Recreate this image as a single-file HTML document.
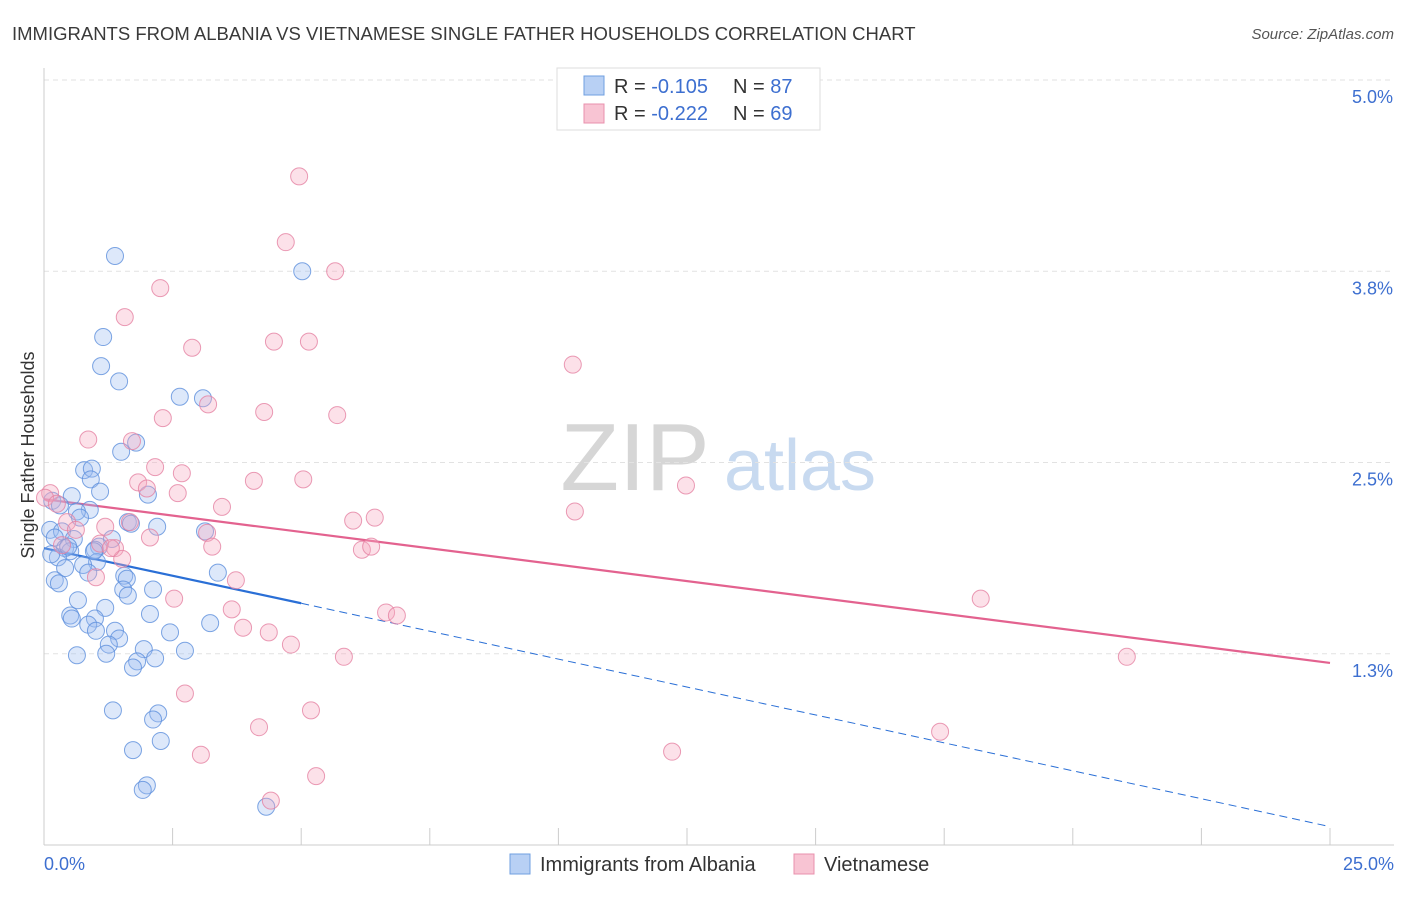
<!DOCTYPE html>
<html><head><meta charset="utf-8"><style>
body{margin:0;background:#fff;font-family:"Liberation Sans",sans-serif;}
svg text{font-family:"Liberation Sans",sans-serif;}
</style></head><body>
<svg id="chart" width="1406" height="892" xmlns="http://www.w3.org/2000/svg">
<text x="12" y="40" font-size="18.5" fill="#3a3a3a">IMMIGRANTS FROM ALBANIA VS VIETNAMESE SINGLE FATHER HOUSEHOLDS CORRELATION CHART</text>
<text x="1394" y="39" font-size="15" fill="#555" font-style="italic" text-anchor="end">Source: ZipAtlas.com</text>
<g><text x="635" y="490" font-size="96" fill="#d6d6d6" font-family="Liberation Serif" text-anchor="middle">ZIP</text><text x="800" y="490" font-size="72" fill="#c8daf0" text-anchor="middle">atlas</text></g>
<g id="grid"></g><g id="axes"></g><g id="trends"></g><g id="points"></g>
<text transform="translate(34,455) rotate(-90)" font-size="18" fill="#333" text-anchor="middle">Single Father Households</text>
<g>
<rect x="557" y="68" width="263" height="62" fill="#fff" stroke="#ddd"/>
<rect x="584" y="76" width="20" height="19" fill="#b8d0f4" stroke="#6f9fe0"/>
<rect x="584" y="104" width="20" height="19" fill="#f8c4d3" stroke="#e990ad"/>
<text x="614" y="93" font-size="20" fill="#333">R = <tspan fill="#3d6fd0">-0.105</tspan><tspan x="733">N = </tspan><tspan fill="#3d6fd0">87</tspan></text>
<text x="614" y="120" font-size="20" fill="#333">R = <tspan fill="#3d6fd0">-0.222</tspan><tspan x="733">N = </tspan><tspan fill="#3d6fd0">69</tspan></text>
</g>
<g>
<rect x="510" y="854" width="20" height="20" fill="#b8d0f4" stroke="#6f9fe0"/>
<text x="540" y="871" font-size="20" fill="#333">Immigrants from Albania</text>
<rect x="794" y="854" width="20" height="20" fill="#f8c4d3" stroke="#e990ad"/>
<text x="824" y="871" font-size="20" fill="#333">Vietnamese</text>
</g>
</svg>
<script>
const yTicks=[5.0,3.75,2.5,1.25];
const yTickLabels=["5.0%","3.8%","2.5%","1.3%"];
const xTicks=[0,2.5,5,7.5,10,12.5,15,17.5,20,22.5,25];
const xEndLabels=["0.0%","25.0%"];
const albaniaX=[1.38,5.02,1.15,1.11,1.46,2.64,3.09,1.79,1.50,0.78,0.93,0.91,1.09,2.02,0.54,0.16,0.31,0.89,0.64,0.70,1.63,1.69,2.20,3.13,0.12,0.35,0.21,0.58,1.32,1.07,0.41,0.51,0.99,0.27,1.03,0.76,0.41,0.86,1.56,1.61,3.38,0.21,0.29,1.54,2.12,1.63,0.66,1.19,0.51,0.54,0.99,2.06,3.23,0.86,1.01,1.38,1.46,2.45,1.26,1.94,2.74,0.64,1.21,1.81,2.16,1.73,1.34,2.22,2.12,1.73,2.27,2.00,1.92,4.32,0.97,0.47,0.14];
const albaniaY=[3.85,3.75,3.32,3.13,3.03,2.93,2.92,2.63,2.57,2.45,2.46,2.39,2.31,2.29,2.28,2.25,2.22,2.19,2.18,2.14,2.11,2.10,2.08,2.05,2.06,2.05,2.01,2.00,2.00,1.95,1.94,1.92,1.93,1.88,1.85,1.83,1.81,1.78,1.76,1.74,1.78,1.73,1.71,1.67,1.67,1.63,1.60,1.55,1.50,1.48,1.48,1.51,1.45,1.44,1.40,1.40,1.35,1.39,1.31,1.28,1.27,1.24,1.25,1.20,1.22,1.16,0.88,0.86,0.82,0.62,0.68,0.39,0.36,0.25,1.92,1.95,1.90];
const vietX=[4.96,4.70,5.66,2.26,1.57,2.88,4.47,5.15,10.28,3.19,4.28,5.70,2.31,0.86,1.71,2.16,2.68,4.08,5.04,12.48,1.83,2.00,2.60,0.12,0.02,0.25,3.46,10.32,6.01,6.43,0.45,1.19,1.67,0.62,2.06,3.17,1.09,1.38,0.35,3.27,6.18,6.36,1.52,3.73,2.53,18.21,6.65,6.86,3.65,3.87,4.37,4.80,5.83,21.05,2.74,5.19,4.18,17.42,3.05,12.21,5.29,4.41,1.01,1.30];
const vietY=[4.37,3.94,3.75,3.64,3.45,3.25,3.29,3.29,3.14,2.88,2.83,2.81,2.79,2.65,2.64,2.47,2.43,2.38,2.39,2.35,2.37,2.33,2.30,2.30,2.27,2.23,2.21,2.18,2.12,2.14,2.11,2.08,2.11,2.06,2.01,2.04,1.97,1.94,1.96,1.95,1.93,1.95,1.87,1.73,1.61,1.61,1.52,1.50,1.54,1.42,1.39,1.31,1.23,1.23,0.99,0.88,0.77,0.74,0.59,0.61,0.45,0.29,1.75,1.94];
const albaniaTrend=[1.94,1.58,0.12];
const albaniaTrendX=[0,5,25];
const vietTrend=[2.26,1.19];
const vietTrendX=[0,25];

const NS="http://www.w3.org/2000/svg";
const X=v=>44+v/25*1286;
const Y=v=>80+(5-v)*153;
function mk(t,a,p){const e=document.createElementNS(NS,t);for(const k in a)e.setAttribute(k,a[k]);p.appendChild(e);return e;}
const grid=document.getElementById('grid'),axes=document.getElementById('axes');
yTicks.forEach((t,i)=>{
 const l=mk('line',{x1:44,x2:1394,y1:Y(t),y2:Y(t),stroke:'#e2e2e2','stroke-dasharray':'5,4'},grid);
 
 
 const tx=mk('text',{x:1393,y:Y(t)+23,'font-size':18,fill:'#3d6fd0','text-anchor':'end'},axes);
 tx.textContent=yTickLabels[i];
 
 
});
const yl=mk('line',{x1:44,x2:44,y1:68,y2:845,stroke:'#ccc'},axes);


const xl=mk('line',{x1:44,x2:1394,y1:845,y2:845,stroke:'#ccc'},axes);


xTicks.forEach(t=>{
 const k=mk('line',{x1:X(t),x2:X(t),y1:828,y2:845,stroke:'#ccc'},axes);
 
 
});
[[0,'start',44],[25,'end',1394]].forEach((d,i)=>{
 const tx=mk('text',{x:d[2],y:870,'font-size':18,fill:'#3d6fd0','text-anchor':d[1]},axes);
 tx.textContent=xEndLabels[i];
 
 
});
const pts=document.getElementById('points');
function dots(xs,ys,fill,stroke,name){
 xs.forEach((x,i)=>{
  const c=mk('circle',{cx:X(x),cy:Y(ys[i]),r:8.5,fill:fill,'fill-opacity':0.35,stroke:stroke,'stroke-opacity':0.8,'stroke-width':1},pts);
  
  
 });
}
dots(albaniaX,albaniaY,'#9dbdf0','#5d8fdc','albania-point');
dots(vietX,vietY,'#f6a9c0','#e582a3','vietnamese-point');
const tr=document.getElementById('trends');
const a1=mk('line',{x1:X(albaniaTrendX[0]),y1:Y(albaniaTrend[0]),x2:X(albaniaTrendX[1]),y2:Y(albaniaTrend[1]),stroke:'#2a6fd6','stroke-width':2.2},tr);


const a2=mk('line',{x1:X(albaniaTrendX[1]),y1:Y(albaniaTrend[1]),x2:X(albaniaTrendX[2]),y2:Y(albaniaTrend[2]),stroke:'#2a6fd6','stroke-width':1,'stroke-dasharray':'8,5'},tr);


const v1=mk('line',{x1:X(vietTrendX[0]),y1:Y(vietTrend[0]),x2:X(vietTrendX[1]),y2:Y(vietTrend[1]),stroke:'#e3628f','stroke-width':2.2},tr);


</script>
</body></html>
